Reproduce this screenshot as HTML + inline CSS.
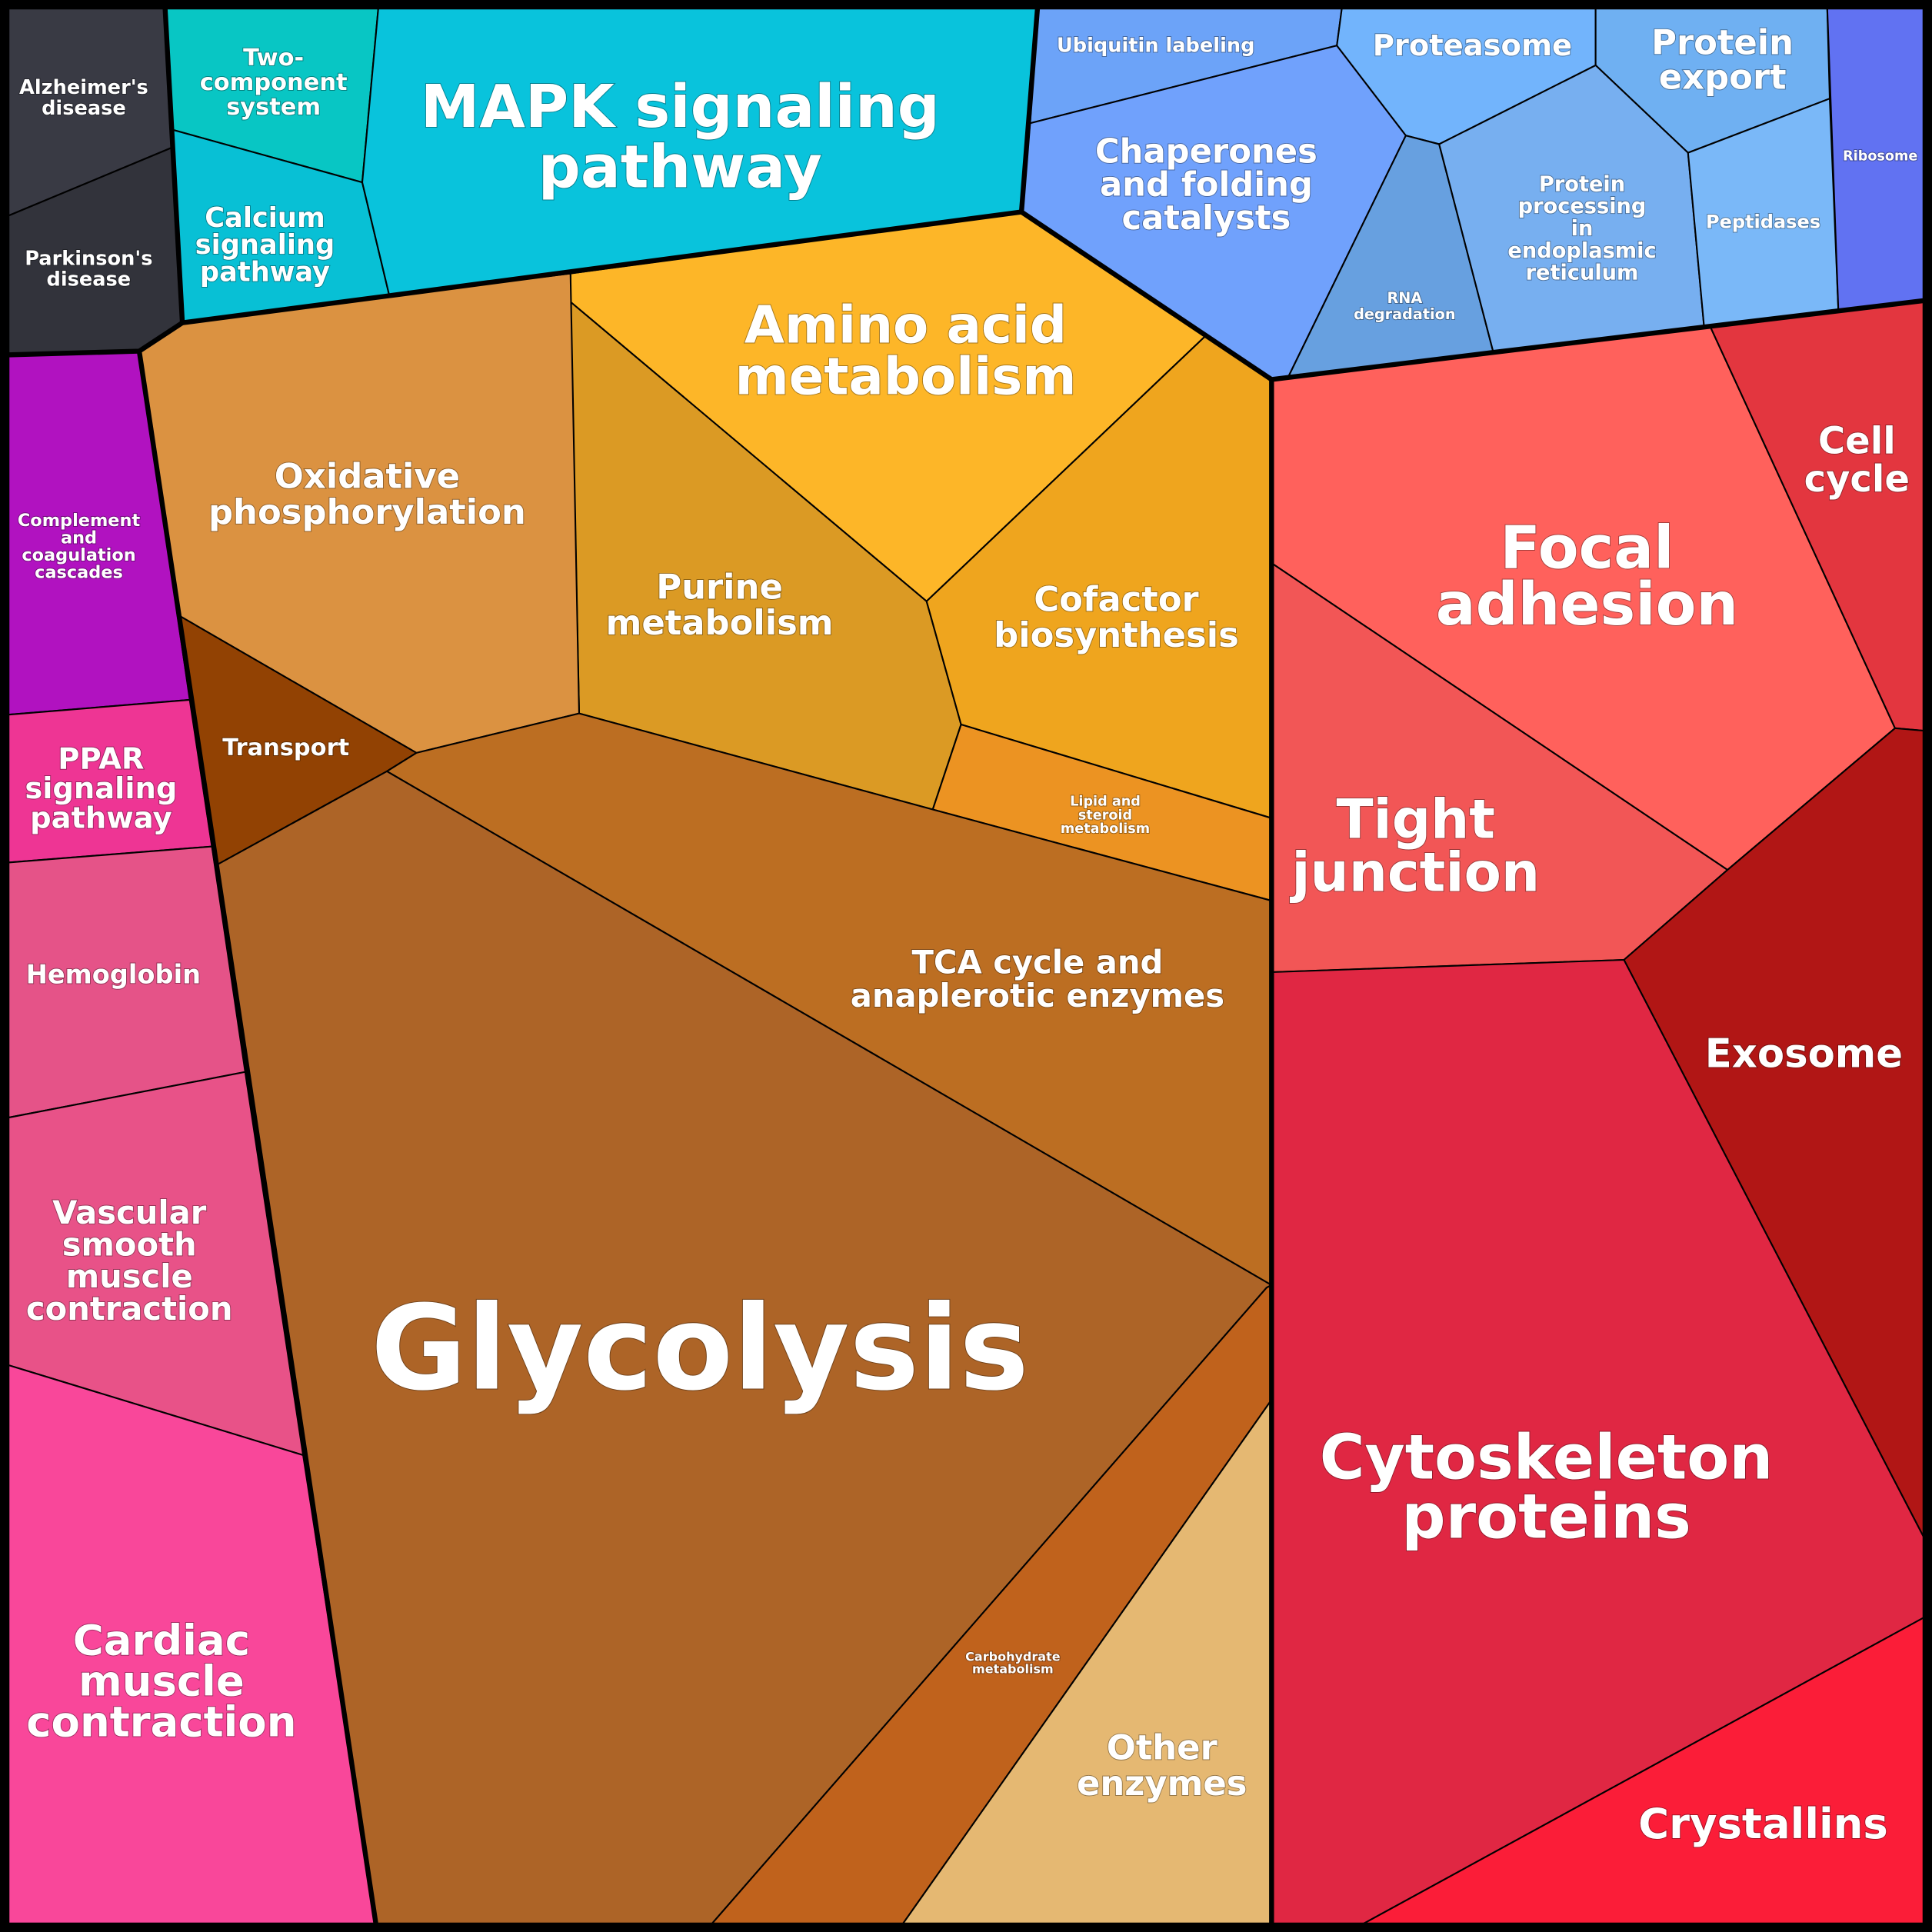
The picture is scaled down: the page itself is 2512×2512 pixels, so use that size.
<!DOCTYPE html>
<html><head><meta charset="utf-8"><style>
html,body{margin:0;padding:0;background:#000}
svg{display:block}
text{font-family:"DejaVu Sans","Liberation Sans",sans-serif;font-weight:bold;fill:#fff;text-anchor:middle;paint-order:stroke;stroke:rgba(0,0,0,0.35);stroke-width:1.2px}
</style></head><body>
<svg width="2512" height="2512" viewBox="0 0 1568 1568" xmlns="http://www.w3.org/2000/svg">
<rect x="0" y="0" width="1568" height="1568" fill="#000"/>
<g stroke="#000" stroke-width="1.3" stroke-linejoin="round">
<polygon fill="#393a44" points="7,7 134,7 139,120 7,175"/>
<polygon fill="#32333b" points="7,175 139,120 148,262 113,285 7,288"/>
<polygon fill="#08c6c4" points="134,7 307,7 294,148 139,105"/>
<polygon fill="#08c0d5" points="139,105 294,148 316,240 148,262"/>
<polygon fill="#09c3dc" points="307,7 842,7 829,172 316,240 294,148"/>
<polygon fill="#6ca3f8" points="842,7 1089,7 1085,37 836,100"/>
<polygon fill="#70a1fc" points="836,100 1085,37 1141,110 1046,305 1032,308 829,172"/>
<polygon fill="#72b4fc" points="1089,7 1295,7 1295,53 1168,117 1141,110 1085,37"/>
<polygon fill="#6fb0f2" points="1295,7 1483,7 1485,80 1370,124 1295,53"/>
<polygon fill="#67a0e0" points="1141,110 1168,117 1212,286 1046,305"/>
<polygon fill="#77aff0" points="1168,117 1295,53 1370,124 1383,265 1212,286"/>
<polygon fill="#7ab8f8" points="1370,124 1485,80 1492,252 1383,265"/>
<polygon fill="#6172f2" points="1483,7 1561,7 1561,244 1492,252"/>
<polygon fill="#fdb628" points="463,222 829,172 978,273 752,488 463,245"/>
<polygon fill="#db9a24" points="463,245 752,488 780,588 757,657 470,579"/>
<polygon fill="#efa51e" points="978,273 1032,308 1032,664 780,588 752,488"/>
<polygon fill="#ec9322" points="780,588 1032,664 1032,731 757,657"/>
<polygon fill="#db9241" points="113,285 148,262 316,240 463,222 470,579 338,611 146,500"/>
<polygon fill="#924203" points="146,500 338,611 314,626 174,703"/>
<polygon fill="#bc6e22" points="338,611 470,579 757,657 1032,731 1032,1043 314,626"/>
<polygon fill="#ad6427" points="174,703 314,626 1032,1043 1028,1045 578,1561 305,1561"/>
<polygon fill="#c0621c" points="1028,1045 1032,1043 1032,1136 733,1561 578,1561"/>
<polygon fill="#e5b872" points="1032,1136 1032,1561 733,1561"/>
<polygon fill="#b112c0" points="7,288 113,285 154,568 7,580"/>
<polygon fill="#ee3594" points="7,580 154,568 172,687 7,700"/>
<polygon fill="#e55388" points="7,700 172,687 199,870 7,907"/>
<polygon fill="#e85288" points="7,907 199,870 246,1181 7,1108"/>
<polygon fill="#f9479a" points="7,1108 246,1181 305,1561 7,1561"/>
<polygon fill="#ff615c" points="1032,308 1388,265 1538,591 1402,706 1032,457"/>
<polygon fill="#e3363f" points="1388,265 1561,244 1561,593 1538,591"/>
<polygon fill="#f25656" points="1032,457 1402,706 1318,779 1032,789"/>
<polygon fill="#b11615" points="1318,779 1402,706 1538,591 1561,593 1561,1247"/>
<polygon fill="#e02743" points="1032,789 1318,779 1561,1247 1561,1313 1107,1561 1032,1561"/>
<polygon fill="#fb1d38" points="1107,1561 1561,1313 1561,1561"/>
</g>
<g stroke="#000" stroke-width="4" fill="none" stroke-linejoin="round">
<polyline points="134,7 148,262 113,285 7,288"/>
<polyline points="148,262 316,240 829,172 842,7"/>
<polyline points="829,172 1032,308 1212,286 1561,244"/>
<polyline points="1032,308 1032,1561"/>
<polyline points="113,285 305,1561"/>
<rect x="4" y="4" width="1560" height="1560" stroke-width="7"/>
</g>
<text font-size="16" x="68" y="76">Alzheimer's<tspan x="68" dy="17">disease</tspan></text>
<text font-size="16" x="72" y="215">Parkinson's<tspan x="72" dy="17">disease</tspan></text>
<text font-size="19" x="222" y="53">Two-<tspan x="222" dy="20">component</tspan><tspan x="222" dy="20">system</tspan></text>
<text font-size="22" x="215" y="184">Calcium<tspan x="215" dy="22">signaling</tspan><tspan x="215" dy="22">pathway</tspan></text>
<text font-size="48" x="552" y="103">MAPK signaling<tspan x="552" dy="49">pathway</tspan></text>
<text font-size="16" x="938" y="42">Ubiquitin labeling</text>
<text font-size="27" x="979" y="132">Chaperones<tspan x="979" dy="27">and folding</tspan><tspan x="979" dy="27">catalysts</tspan></text>
<text font-size="24" x="1195" y="45">Proteasome</text>
<text font-size="28" x="1398" y="44">Protein<tspan x="1398" dy="28">export</tspan></text>
<text font-size="12" x="1140" y="246">RNA<tspan x="1140" dy="13">degradation</tspan></text>
<text font-size="17" x="1284" y="155">Protein<tspan x="1284" dy="18">processing</tspan><tspan x="1284" dy="18">in</tspan><tspan x="1284" dy="18">endoplasmic</tspan><tspan x="1284" dy="18">reticulum</tspan></text>
<text font-size="15" x="1431" y="185">Peptidases</text>
<text font-size="11" x="1526" y="130">Ribosome</text>
<text font-size="42" x="735" y="278">Amino acid<tspan x="735" dy="42">metabolism</tspan></text>
<text font-size="28" x="298" y="396">Oxidative<tspan x="298" dy="29">phosphorylation</tspan></text>
<text font-size="28" x="584" y="486">Purine<tspan x="584" dy="29">metabolism</tspan></text>
<text font-size="28" x="906" y="496">Cofactor<tspan x="906" dy="29">biosynthesis</tspan></text>
<text font-size="11" x="897" y="654">Lipid and<tspan x="897" dy="11">steroid</tspan><tspan x="897" dy="11">metabolism</tspan></text>
<text font-size="19" x="232" y="613">Transport</text>
<text font-size="26" x="842" y="790">TCA cycle and<tspan x="842" dy="27">anaplerotic enzymes</tspan></text>
<text font-size="95" x="568" y="1127">Glycolysis</text>
<text font-size="10" x="822" y="1348">Carbohydrate<tspan x="822" dy="10">metabolism</tspan></text>
<text font-size="28" x="943" y="1428">Other<tspan x="943" dy="29">enzymes</tspan></text>
<text font-size="14" x="64" y="427">Complement<tspan x="64" dy="14">and</tspan><tspan x="64" dy="14">coagulation</tspan><tspan x="64" dy="14">cascades</tspan></text>
<text font-size="24" x="82" y="624">PPAR<tspan x="82" dy="24">signaling</tspan><tspan x="82" dy="24">pathway</tspan></text>
<text font-size="21" x="92" y="798">Hemoglobin</text>
<text font-size="26" x="105" y="993">Vascular<tspan x="105" dy="26">smooth</tspan><tspan x="105" dy="26">muscle</tspan><tspan x="105" dy="26">contraction</tspan></text>
<text font-size="34" x="131" y="1343">Cardiac<tspan x="131" dy="33">muscle</tspan><tspan x="131" dy="33">contraction</tspan></text>
<text font-size="48" x="1288" y="461">Focal<tspan x="1288" dy="46">adhesion</tspan></text>
<text font-size="30" x="1507" y="368">Cell<tspan x="1507" dy="31">cycle</tspan></text>
<text font-size="44" x="1149" y="680">Tight<tspan x="1149" dy="43">junction</tspan></text>
<text font-size="32" x="1464" y="866">Exosome</text>
<text font-size="50" x="1255" y="1200">Cytoskeleton<tspan x="1255" dy="48">proteins</tspan></text>
<text font-size="34" x="1431" y="1492">Crystallins</text>
</svg>
</body></html>
